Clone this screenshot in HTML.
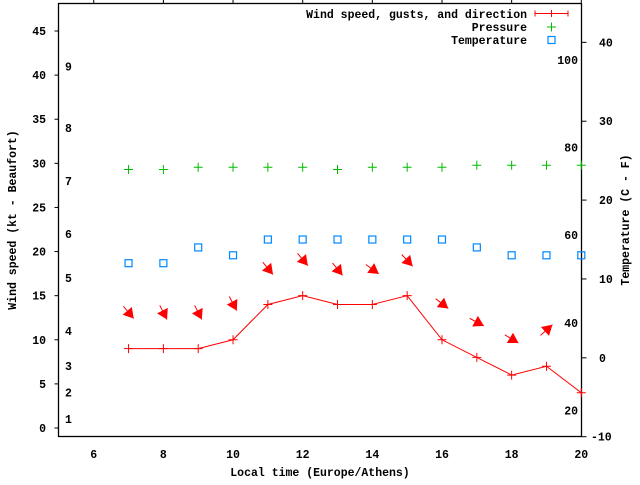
<!DOCTYPE html>
<html><head><meta charset="utf-8"><style>
html,body{margin:0;padding:0;background:#fff;}
svg text{font-family:"Liberation Mono",monospace;font-weight:bold;font-size:11.5px;fill:#000;}
</style></head><body>
<svg id="chart" width="640" height="480" xmlns="http://www.w3.org/2000/svg">
<rect x="0" y="0" width="640" height="480" fill="#fff"/>
<g id="axes"></g>
<g id="marks"></g>
<text transform="translate(16,220) rotate(-90)" text-anchor="middle">Wind speed (kt - Beaufort)</text>
<text transform="translate(629,220) rotate(-90)" text-anchor="middle">Temperature (C - F)</text>
<text x="320" y="476" text-anchor="middle">Local time (Europe/Athens)</text>
<g>
<text x="527" y="18" text-anchor="end">Wind speed, gusts, and direction</text>
<path d="M535,13.5H568M535,10.5V16.5M568,10.5V16.5M551.5,10V17" stroke="#f00" stroke-width="1"/>
<text x="527" y="31" text-anchor="end">Pressure</text>
<path d="M547,27H556M551.5,22.5V31.5" stroke="#0b0" stroke-width="1"/>
<text x="527" y="44" text-anchor="end">Temperature</text>
<rect x="548" y="36.5" width="7" height="7" fill="none" stroke="#08f" stroke-width="1.2"/>
</g>
</svg>
<script>
const hours = [7,8,9,10,11,12,13,14,15,16,17,18,19,20];
const windKt = [9,9,9,10,14,15,14,14,15,10,8,6,7,4];
const pressure = [29.3,29.3,29.55,29.55,29.55,29.55,29.3,29.55,29.55,29.55,29.78,29.78,29.78,29.78];
const tempC = [12,12,14,13,15,15,15,15,15,15,14,13,13,13];
const arrowHours = [7,8,9,10,11,12,13,14,15,16,17,18,19];
const gustKt = [13.1,13.1,13.1,14.1,18.1,19.1,18,18,19,14.1,12,10.1,11.1];
const arrowAngle = [50,63,63,62,50,50,51,36,47,38,28,31,-42];
const xTicks = [6,8,10,12,14,16,18,20];
const yTicks = [0,5,10,15,20,25,30,35,40,45];
const y2Ticks = [-10,0,10,20,30,40];
const beaufortLabels = ["1","2","3","4","5","6","7","8","9"];
const beaufortKt = [1,4,7,11,17,22,28,34,41];
const fahrenheitTicks = [20,40,60,80,100];

const L=58.5,R=581.5,T=3.5,B=436.5;
const xS=h=>58.9+(h-5)*(581.3-58.9)/15;
const yS=v=>428-v*(428-31)/45;
const y2S=c=>436.7-(c+10)*7.887;
const NS="http://www.w3.org/2000/svg";
const axes=document.getElementById('axes');
const marks=document.getElementById('marks');
function mk(tag,attrs,parent){const e=document.createElementNS(NS,tag);for(const k in attrs)e.setAttribute(k,attrs[k]);parent.appendChild(e);return e;}

const frame=mk('rect',{x:L,y:T,width:R-L,height:B-T,fill:'none',stroke:'#000','stroke-width':1.3},axes);



xTicks.forEach(v=>{
  const x=xS(v);
  const t=mk('line',{x1:x,x2:x,y1:T-4,y2:T,stroke:'#000'},axes);
  
  
  const l=mk('text',{x:x,y:458,'text-anchor':'middle'},axes);l.textContent=v;
  
  
});
yTicks.forEach(v=>{
  const y=yS(v);
  const t=mk('line',{x1:L-4,x2:L,y1:y,y2:y,stroke:'#000'},axes);
  
  
  const l=mk('text',{x:46,y:y+4,'text-anchor':'end'},axes);l.textContent=v;
  
  
});
y2Ticks.forEach(v=>{
  const y=y2S(v);
  const t=mk('line',{x1:R,x2:R+5,y1:y,y2:y,stroke:'#000'},axes);
  
  
  const l=mk('text',{x:v<0?591:599,y:y+4,'text-anchor':'start'},axes);l.textContent=v;
  
  
});
beaufortLabels.forEach((b,i)=>{
  const l=mk('text',{x:65,y:yS(beaufortKt[i])+4},axes);l.textContent=b;
  
  
});
fahrenheitTicks.forEach(f=>{
  const c=(f-32)*5/9;
  const l=mk('text',{x:578,y:y2S(c)+4,'text-anchor':'end'},axes);l.textContent=f;
  
  
});

const pts=hours.map((h,i)=>xS(h)+','+yS(windKt[i])).join(' ');
const line=mk('polyline',{points:pts,fill:'none',stroke:'#f00','stroke-width':1},marks);


hours.forEach((h,i)=>{
  const x=xS(h),y=yS(windKt[i]);
  const p=mk('path',{d:`M${x-4.5},${y}H${x+4.5}M${x},${y-4.5}V${y+4.5}`,stroke:'#f00'},marks);
  
  
});
hours.forEach((h,i)=>{
  const x=xS(h),y=yS(pressure[i]);
  const p=mk('path',{d:`M${x-4.5},${y}H${x+4.5}M${x},${y-4.5}V${y+4.5}`,stroke:'#0b0'},marks);
  
  
});
hours.forEach((h,i)=>{
  const x=xS(h),y=y2S(tempC[i]);
  const r=mk('rect',{x:x-3.5,y:y-3.5,width:7,height:7,fill:'none',stroke:'#08f','stroke-width':1.2},marks);
  
  
});
arrowHours.forEach((h,i)=>{
  const cx=xS(h),cy=yS(gustKt[i]);
  const a=arrowAngle[i]*Math.PI/180,len=16;
  const dx=Math.cos(a)*len/2,dy=Math.sin(a)*len/2;
  const x1=cx-dx,y1=cy-dy,x2=cx+dx,y2=cy+dy;
  const g=mk('g',{},marks);
  
  
  mk('line',{x1:x1,y1:y1,x2:x2,y2:y2,stroke:'#f00'},g);
  const hl=10,hw=0.6;
  const bx=x2-Math.cos(a)*hl,by=y2-Math.sin(a)*hl;
  const px=-Math.sin(a)*hl*hw,py=Math.cos(a)*hl*hw;
  mk('polygon',{points:`${x2},${y2} ${bx+px},${by+py} ${bx-px},${by-py}`,fill:'#f00'},g);
});
</script>
</body></html>
